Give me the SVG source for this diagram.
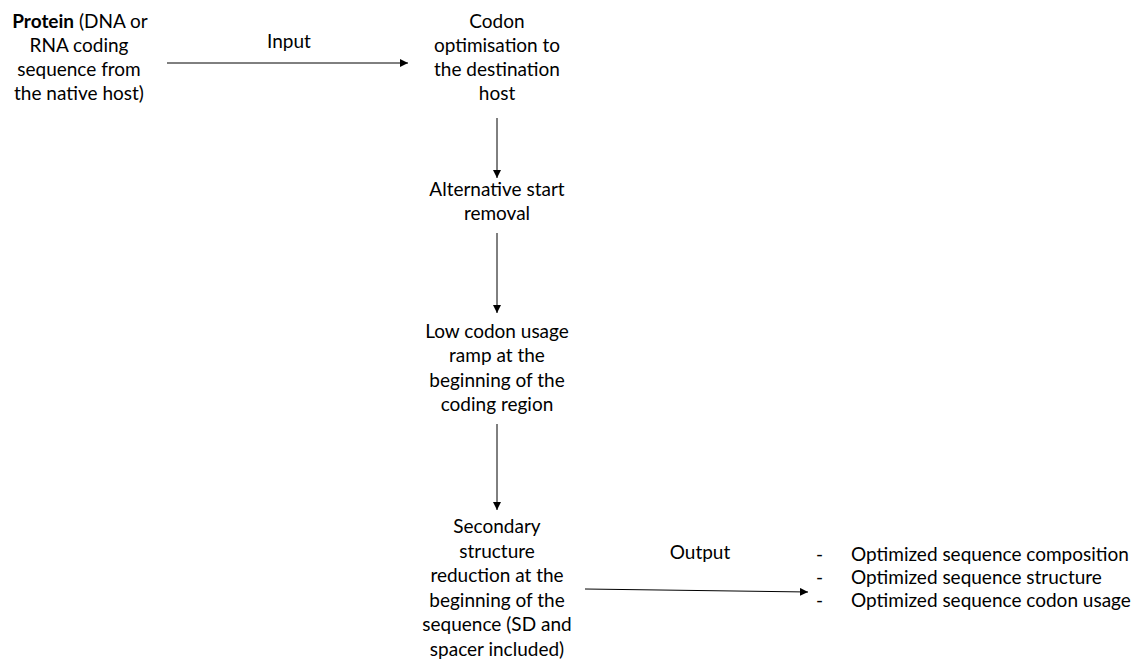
<svg xmlns="http://www.w3.org/2000/svg" width="1133" height="660" viewBox="0 0 1133 660">
<style>
text{font-family:Lato,"Open Sans","Liberation Sans",sans-serif;font-size:19px;fill:#000}
.c{text-anchor:middle}
.b{font-weight:bold}
.ln{stroke:#000;stroke-width:1;fill:none}
</style>
<defs>
<marker id="ah" viewBox="0 0 10 10" refX="10" refY="5" markerWidth="8" markerHeight="8" markerUnits="userSpaceOnUse" orient="auto"><path d="M0,0L10,5L0,10z" fill="#000"/></marker>
</defs>
<rect width="1133" height="660" fill="#fff"/>
<g id="protein">
<text class="c" x="80" y="28"><tspan class="b">Protein</tspan> (DNA or</text>
<text class="c" x="79" y="52">RNA coding</text>
<text class="c" x="79" y="76">sequence from</text>
<text class="c" x="79" y="100">the native host)</text>
</g>
<g id="codon">
<text class="c" x="497" y="28">Codon</text>
<text class="c" x="497" y="52">optimisation to</text>
<text class="c" x="497" y="76">the destination</text>
<text class="c" x="497" y="100">host</text>
</g>
<g id="altstart">
<text class="c" x="497" y="196">Alternative start</text>
<text class="c" x="497" y="220">removal</text>
</g>
<g id="lowcodon">
<text class="c" x="497" y="338">Low codon usage</text>
<text class="c" x="497" y="362">ramp at the</text>
<text class="c" x="497" y="387">beginning of the</text>
<text class="c" x="497" y="411">coding region</text>
</g>
<g id="secondary">
<text class="c" x="497" y="533">Secondary</text>
<text class="c" x="497" y="558">structure</text>
<text class="c" x="497" y="582">reduction at the</text>
<text class="c" x="497" y="607">beginning of the</text>
<text class="c" x="497" y="631">sequence (SD and</text>
<text class="c" x="497" y="656">spacer included)</text>
</g>
<g id="results">
<text x="816" y="561">-</text>
<text x="851" y="561">Optimized sequence composition</text>
<text x="816" y="584">-</text>
<text x="851" y="584">Optimized sequence structure</text>
<text x="816" y="607">-</text>
<text x="851" y="607">Optimized sequence codon usage</text>
</g>
<g id="connectors">
<line class="ln" x1="167" y1="63" x2="408" y2="63" marker-end="url(#ah)"/>
<text class="c" x="289" y="48">Input</text>
<line class="ln" x1="497" y1="118" x2="497" y2="178" marker-end="url(#ah)"/>
<line class="ln" x1="497" y1="233" x2="497" y2="313" marker-end="url(#ah)"/>
<line class="ln" x1="497" y1="424" x2="497" y2="510" marker-end="url(#ah)"/>
<line class="ln" x1="585" y1="589" x2="808" y2="592" marker-end="url(#ah)"/>
<text class="c" x="700" y="559">Output</text>
</g>
</svg>
